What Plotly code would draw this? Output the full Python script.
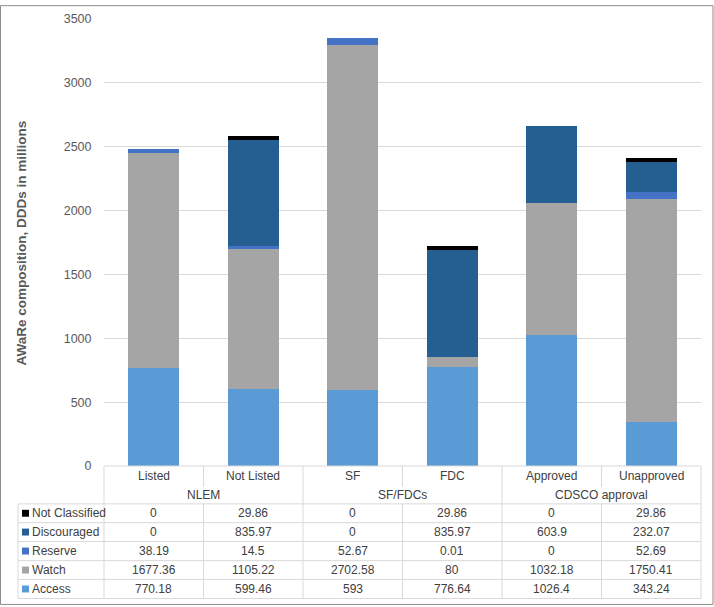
import plotly.graph_objects as go

# ---------------- data ----------------
categories = ["Listed", "Not Listed", "SF", "FDC", "Approved", "Unapproved"]
groups = ["NLEM", "SF/FDCs", "CDSCO approval"]
series_names = ["Access", "Watch", "Reserve", "Discouraged", "Not Classified"]
access = [770.18, 599.46, 593, 776.64, 1026.4, 343.24]
watch = [1677.36, 1105.22, 2702.58, 80, 1032.18, 1750.41]
reserve = [38.19, 14.5, 52.67, 0.01, 0, 52.69]
discouraged = [0, 835.97, 0, 835.97, 603.9, 232.07]
not_classified = [0, 29.86, 0, 29.86, 0, 29.86]
y_ticks = [0, 500, 1000, 1500, 2000, 2500, 3000, 3500]
y_title = "AWaRe composition, DDDs in millions"

series_values = [access, watch, reserve, discouraged, not_classified]
colors = ["#5B9BD5", "#A5A5A5", "#4472C4", "#255E91", "#000000"]

# ---------------- layout geometry (pixels) ----------------
W, H = 714, 607
L, R, T, B = 104, 701, 14, 466
FONT = "Liberation Sans, Arial, sans-serif"
TXT = "#404040"
LINE = "#d9d9d9"


def px(x):
    return (x - L) / (R - L)


def py(y):
    return (B - y) / (B - T)


n = len(categories)
colw = (R - L) / n
xs = list(range(n))

fig = go.Figure()
for name, vals, col in zip(series_names, series_values, colors):
    fig.add_trace(go.Bar(
        x=xs, y=vals, name=name, marker=dict(color=col, line=dict(width=0)),
        showlegend=False, hoverinfo="name+y"))

shapes = []
annotations = []


def hline(y, x0, x1):
    shapes.append(dict(type="line", xref="paper", yref="paper",
                       x0=px(x0), x1=px(x1), y0=py(y), y1=py(y),
                       line=dict(color=LINE, width=1)))


def vline(x, y0, y1):
    shapes.append(dict(type="line", xref="paper", yref="paper",
                       x0=px(x), x1=px(x), y0=py(y0), y1=py(y1),
                       line=dict(color=LINE, width=1)))


# table rows (top -> bottom)
row_tops = [504.3, 523.3, 542.3, 561.7, 580.7]
row_bottom = 600
tab_left = 18

hline(B, L, R)
for yy in row_tops + [row_bottom]:
    hline(yy, tab_left, R)

vline(tab_left, row_tops[0], row_bottom)
per_group = n // len(groups)
for i in range(n + 1):
    x = L + i * colw
    if i % per_group == 0:
        vline(x, B, row_bottom)
    else:
        vline(x, B, 487)
        vline(x, row_tops[0], row_bottom)

# category labels
for i, c in enumerate(categories):
    annotations.append(dict(x=px(L + (i + 0.5) * colw), y=py(476), xref="paper", yref="paper",
                            text=c, showarrow=False, font=dict(family=FONT, size=12, color=TXT),
                            xanchor="center", yanchor="middle"))
# group labels
for g, name in enumerate(groups):
    annotations.append(dict(x=px(L + (g + 0.5) * per_group * colw), y=py(495), xref="paper", yref="paper",
                            text=name, showarrow=False, font=dict(family=FONT, size=12, color=TXT),
                            xanchor="center", yanchor="middle"))

# data rows
row_order = list(reversed(range(len(series_names))))
row_h = [(row_tops + [row_bottom])[k + 1] - row_tops[k] for k in range(len(row_tops))]
for r, si in enumerate(row_order):
    yc = row_tops[r] + row_h[r] / 2
    # legend key
    shapes.append(dict(type="rect", xref="paper", yref="paper",
                       x0=px(22), x1=px(29), y0=py(yc - 3.5), y1=py(yc + 3.5),
                       fillcolor=colors[si], line=dict(width=0)))
    annotations.append(dict(x=px(30), y=py(yc), xref="paper", yref="paper",
                            text=series_names[si], showarrow=False,
                            font=dict(family=FONT, size=12, color=TXT),
                            xanchor="left", yanchor="middle"))
    for i in range(n):
        annotations.append(dict(x=px(L + (i + 0.5) * colw), y=py(yc), xref="paper", yref="paper",
                                text=f"{series_values[si][i]:g}", showarrow=False,
                                font=dict(family=FONT, size=12, color=TXT),
                                xanchor="center", yanchor="middle"))

# y-axis title
annotations.append(dict(x=px(21), y=py(241), xref="paper", yref="paper", text=f"<b>{y_title}</b>",
                        textangle=-90, showarrow=False, font=dict(family=FONT, size=13.5, color="#595959"),
                        xanchor="center", yanchor="middle"))

# outer frame
shapes.append(dict(type="rect", xref="paper", yref="paper",
                   x0=px(0.5), x1=px(713), y0=py(0.5), y1=py(606),
                   line=dict(color="#8c8c8c", width=1), fillcolor="rgba(0,0,0,0)"))

fig.update_layout(
    width=W, height=H,
    margin=dict(l=L, r=W - R, t=T, b=H - B, pad=0),
    barmode="stack", bargap=0.487,
    plot_bgcolor="white", paper_bgcolor="white",
    font=dict(family=FONT, size=12, color=TXT),
    shapes=shapes, annotations=annotations,
    xaxis=dict(range=[-0.5, n - 0.5], showticklabels=False, showgrid=False,
               zeroline=False, showline=False, fixedrange=True),
    yaxis=dict(range=[0, 3500], tickvals=y_ticks, showgrid=True, gridcolor=LINE, gridwidth=1,
               zeroline=False, showline=False, ticks="outside", ticklen=9,
               tickcolor="rgba(0,0,0,0)", tickfont=dict(family=FONT, size=12.5, color="#595959"),
               fixedrange=True),
)

fig.write_html("out.html", config={"displayModeBar": False})

# remove default page margins so the figure sits at the window origin
with open("out.html", "r", encoding="utf-8") as f:
    html = f.read()
html = html.replace("<body>", '<body style="margin:0;padding:0;overflow:hidden;">', 1)
with open("out.html", "w", encoding="utf-8") as f:
    f.write(html)
